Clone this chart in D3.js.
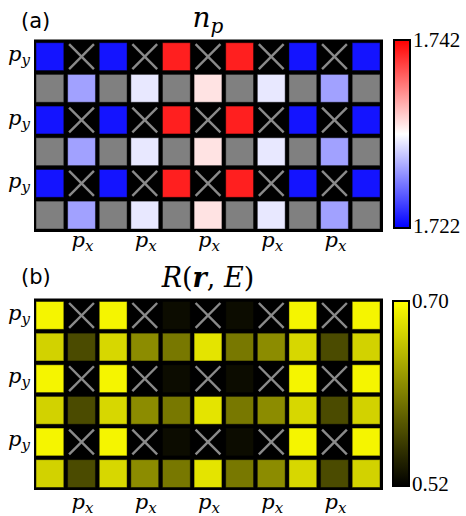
<!DOCTYPE html>
<html>
<head>
<meta charset="utf-8">
<script src="https://cdn.jsdelivr.net/npm/d3@7"></script>
<style>
  body { margin: 0; background: #fff; }
  text { fill: #000; }
</style>
</head>
<body>
<div id="chart"></div>
<script>
/** DATA */
// 11 sites across, 6 rows; even rows hold p_y orbitals, odd rows hold p_x
const columns = d3.range(11);
const rowKinds = ["py", "px", "py", "px", "py", "px"];
const pxLabelCols = [1, 3, 5, 7, 9];

// panel (a) n_p : null on a p_y row = empty site (cross), null on a p_x row = grey
const npPy = [1.7228, null, 1.7228, null, 1.7408, null, 1.7408, null, 1.7228, null, 1.7228];
const npPx = [null, 1.7283, null, 1.7311, null, 1.7331, null, 1.7311, null, 1.7283, null];
const npTicks = [1.722, 1.742];

// panel (b) R(r,E)
const rPy = [0.693, null, 0.693, null, 0.5285, null, 0.5285, null, 0.693, null, 0.693];
const rPx = [0.668, 0.573, 0.672, 0.619, 0.605, 0.681, 0.605, 0.619, 0.672, 0.573, 0.668];
const rTicks = ["0.52", "0.70"];

/** CONSTANTS */
const width = 466,
    height = 516,
    gridX = [36, 380],
    mathFont = "DejaVu Serif";

const svg = d3.select("#chart")
    .append("svg")
    .attr("width", width)
    .attr("height", height);

const defs = svg.append("defs");

const panels = [
    {
        id: "a", label: "(a)", py: npPy, px: npPx,
        domain: npTicks, tickText: npTicks.map(d => d3.format(".3f")(d)),
        color: d3.scaleLinear().domain([1.722, 1.732, 1.742]).range(["#0000ff", "#ffffff", "#ff0000"]),
        box: [34, 39.5, 383, 232], rows: [42.7, 229],
        cbar: [393, 39, 411, 229], labelY: 28, titleY: 27, pxY: 247
    },
    {
        id: "b", label: "(b)", py: rPy, px: rPx,
        domain: rTicks.map(Number), tickText: rTicks,
        color: d3.scaleLinear().domain([0.52, 0.70]).range(["#000000", "#ffff00"]),
        box: [34, 298.5, 383, 490], rows: [301.5, 487.5],
        cbar: [392, 300, 410, 487], labelY: 284, titleY: 287, pxY: 509
    }
];

panels.forEach(drawPanel);

function drawPanel(p) {
    const g = svg.append("g");

    const x = d3.scaleBand()
        .domain(columns)
        .range(gridX)
        .paddingInner(0.12);

    const y = d3.scaleBand()
        .domain(d3.range(rowKinds.length))
        .range(p.rows)
        .paddingInner(0.12);

    // black frame behind the cells
    g.append("rect")
        .attr("x", p.box[0])
        .attr("y", p.box[1])
        .attr("width", p.box[2] - p.box[0])
        .attr("height", p.box[3] - p.box[1])
        .attr("fill", "#000");

    const cells = [];
    rowKinds.forEach((kind, r) => {
        columns.forEach(c => {
            const v = kind === "py" ? p.py[c] : p.px[c];
            cells.push({ r, c, v, type: v != null ? "val" : (kind === "py" ? "empty" : "grey") });
        });
    });

    g.selectAll("rect.cell")
        .data(cells)
        .join("rect")
        .attr("class", "cell")
        .attr("x", d => x(d.c))
        .attr("y", d => y(d.r))
        .attr("width", x.bandwidth())
        .attr("height", y.bandwidth())
        .attr("fill", d => d.type === "val" ? p.color(d.v) : d.type === "grey" ? "#808080" : "#000")
        .attr("stroke", "rgba(0,0,0,0.45)")
        .attr("stroke-width", 1);

    // grey crosses on empty sites
    const empty = cells.filter(d => d.type === "empty");
    const inset = 1.5;
    g.selectAll("line.c1")
        .data(empty)
        .join("line")
        .attr("x1", d => x(d.c) + inset)
        .attr("y1", d => y(d.r) + inset)
        .attr("x2", d => x(d.c) + x.bandwidth() - inset)
        .attr("y2", d => y(d.r) + y.bandwidth() - inset);
    g.selectAll("line.c2")
        .data(empty)
        .join("line")
        .attr("x1", d => x(d.c) + x.bandwidth() - inset)
        .attr("y1", d => y(d.r) + inset)
        .attr("x2", d => x(d.c) + inset)
        .attr("y2", d => y(d.r) + y.bandwidth() - inset);
    g.selectAll("line")
        .attr("stroke", "#8a8a8a")
        .attr("stroke-width", 2.4);

    // p_y labels on the left
    g.selectAll("text.py")
        .data(d3.range(rowKinds.length).filter(r => rowKinds[r] === "py"))
        .join("text")
        .attr("class", "py")
        .attr("x", 30)
        .attr("y", r => y(r) + y.bandwidth() / 2 + 4.5)
        .attr("text-anchor", "end")
        .attr("font-family", mathFont)
        .attr("font-style", "italic")
        .attr("font-size", 21)
        .html('p<tspan font-size="15" dy="4">y</tspan>');

    // p_x labels below
    g.selectAll("text.px")
        .data(pxLabelCols)
        .join("text")
        .attr("class", "px")
        .attr("x", c => x(c) + x.bandwidth() / 2 - 10)
        .attr("y", p.pxY)
        .attr("font-family", mathFont)
        .attr("font-style", "italic")
        .attr("font-size", 21)
        .html('p<tspan font-size="15" dy="4">x</tspan>');

    // panel letter
    g.append("text")
        .attr("x", 21)
        .attr("y", p.labelY)
        .attr("font-family", "DejaVu Sans")
        .attr("font-size", 21)
        .text(p.label);

    // title
    const title = g.append("text")
        .attr("x", (gridX[0] + gridX[1]) / 2)
        .attr("y", p.titleY)
        .attr("text-anchor", "middle")
        .attr("font-family", mathFont)
        .attr("font-style", "italic");
    if (p.id === "a") {
        title.attr("font-size", 28)
            .html('n<tspan font-size="20" dy="6">p</tspan>');
    } else {
        title.attr("font-size", 27)
            .html('R<tspan font-style="normal">(</tspan><tspan font-weight="bold">r</tspan><tspan font-style="normal">, </tspan>E<tspan font-style="normal">)</tspan>');
    }

    // colorbar
    const [cx0, cy0, cx1, cy1] = p.cbar;
    const cScale = d3.scaleLinear().domain(p.domain).range([cy1, cy0]);
    const grad = defs.append("linearGradient")
        .attr("id", "grad-" + p.id)
        .attr("x1", 0).attr("y1", 1)
        .attr("x2", 0).attr("y2", 0);
    grad.selectAll("stop")
        .data(d3.range(0, 1.0001, 0.05))
        .join("stop")
        .attr("offset", t => t)
        .attr("stop-color", t => p.color(p.domain[0] + t * (p.domain[1] - p.domain[0])));

    g.append("rect")
        .attr("x", cx0 + 1)
        .attr("y", cy0 + 1)
        .attr("width", cx1 - cx0 - 2)
        .attr("height", cy1 - cy0 - 2)
        .attr("fill", `url(#grad-${p.id})`)
        .attr("stroke", "#000")
        .attr("stroke-width", 2);

    g.selectAll("text.tick")
        .data(p.domain)
        .join("text")
        .attr("class", "tick")
        .attr("x", cx1 + 2)
        .attr("y", (d, i) => cScale(d) + (i === 0 ? 4 : 8))
        .attr("font-family", "Liberation Serif")
        .attr("font-size", 21)
        .text((d, i) => p.tickText[i]);
}
</script>
</body>
</html>
